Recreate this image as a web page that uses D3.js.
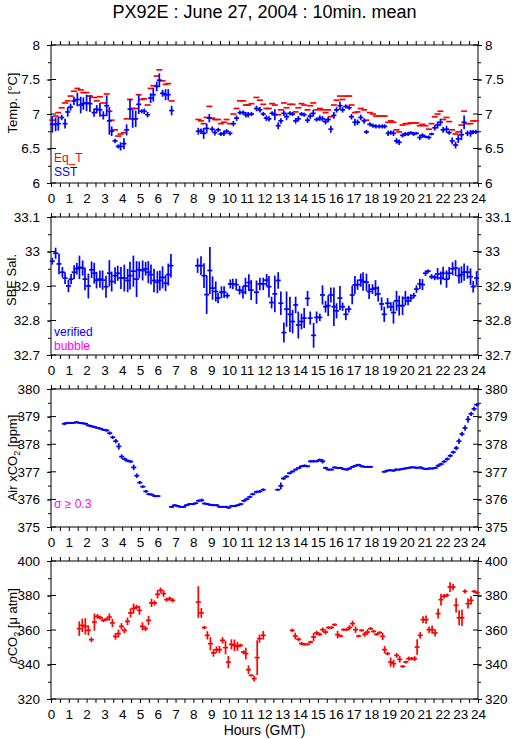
<!DOCTYPE html>
<html>
<head>
<meta charset="utf-8">
<script src="https://cdn.jsdelivr.net/npm/d3@7"></script>
<style>
  body { margin: 0; background: #fff; }
  text { font-family: "Liberation Sans", Arial, Helvetica, sans-serif; }
</style>
</head>
<body>
<div id="chart"></div>
<script>
// PX92E underway data, 10 min means
var hourTicks = d3.range(0, 25);

// temperature panel: hours, SST (+/- sd) and equilibrator temp
var tempHours = [0.07,0.26,0.41,0.6,0.79,0.94,1.1,1.29,1.48,1.67,1.82,2.0,2.19,2.42,2.57,2.75,2.94,3.13,3.28,3.41,
  3.6,3.78,3.91,4.1,4.25,4.44,4.59,4.76,4.93,5.1,5.24,5.43,5.6,5.75,5.94,6.09,6.27,6.44,6.59,6.78,
  8.28,8.43,8.58,8.75,8.9,9.06,9.21,9.4,9.55,9.72,9.87,10.06,10.25,10.43,10.62,10.8,10.95,11.08,11.27,
  11.55,11.74,11.93,12.1,12.25,12.43,12.58,12.77,12.92,13.09,13.24,13.43,13.58,13.75,13.9,14.08,14.23,14.42,14.57,14.74,
  14.93,15.11,15.26,15.43,15.58,15.73,15.9,16.05,16.24,16.39,16.57,16.76,16.89,17.08,17.23,17.41,17.6,17.73,17.92,18.1,
  18.26,18.45,18.63,18.76,18.95,19.1,19.25,19.42,19.57,19.76,19.92,20.07,20.22,20.39,20.54,20.73,20.88,21.05,21.24,21.39,
  21.57,21.73,21.89,22.04,22.23,22.38,22.55,22.74,22.89,23.07,23.22,23.41,23.58,23.73,23.88];
var sst = [6.85,6.85,6.86,6.95,6.86,7.03,7.1,7.19,7.21,7.13,7.15,7.16,7.15,7.02,7.07,7.06,6.98,7.12,6.9,6.75,
  6.61,6.53,6.53,6.57,6.77,7.07,6.93,6.93,7.14,7.04,7.04,6.99,7.23,7.28,7.4,7.49,7.3,7.28,7.28,7.05,
  6.75,6.75,6.72,6.79,6.94,6.78,6.73,6.77,6.71,6.72,6.75,6.72,6.86,6.94,7.02,7.02,6.99,6.99,7.0,
  7.08,7.06,7.0,6.94,6.93,7.01,6.99,6.83,6.9,7.01,6.96,7.01,7.0,6.9,6.93,7.0,6.99,6.91,6.97,7.01,
  6.92,6.94,6.93,6.89,6.92,6.78,6.98,7.06,7.12,7.06,7.11,7.09,6.96,6.88,6.88,6.95,6.9,6.74,6.85,6.83,
  6.82,6.82,6.82,6.82,6.72,6.73,6.72,6.61,6.59,6.69,6.71,6.71,6.73,6.71,6.72,6.66,6.69,6.67,6.66,6.71,
  6.8,6.84,6.88,6.77,6.78,6.73,6.61,6.55,6.64,6.7,6.88,6.72,6.72,6.74,6.74];
var sstErr = [0.12,0.1,0.1,0.04,0.07,0.07,0.05,0.06,0.1,0.12,0.09,0.12,0.12,0.06,0.06,0.1,0.06,0.15,0.2,0.07,
  0.03,0.03,0.06,0.08,0.08,0.15,0.13,0.12,0.14,0.03,0.04,0.04,0.07,0.1,0.07,0.1,0.05,0.08,0.08,0.07,
  0.05,0.04,0.08,0.07,0.06,0.04,0.04,0.03,0.03,0.04,0.03,0.03,0.04,0.04,0.03,0.03,0.04,0.04,0.03,
  0.04,0.04,0.03,0.04,0.04,0.03,0.08,0.05,0.04,0.04,0.05,0.03,0.03,0.04,0.04,0.03,0.03,0.04,0.04,0.05,
  0.03,0.04,0.04,0.04,0.04,0.05,0.05,0.04,0.06,0.04,0.03,0.03,0.04,0.05,0.04,0.04,0.04,0.03,0.03,0.03,
  0.03,0.03,0.03,0.03,0.04,0.03,0.04,0.04,0.04,0.03,0.03,0.03,0.02,0.03,0.02,0.04,0.03,0.02,0.03,0.02,
  0.04,0.05,0.05,0.04,0.05,0.03,0.05,0.05,0.06,0.08,0.1,0.04,0.05,0.03,0.03];
var eqT = [6.91,6.97,7.02,7.09,7.16,7.19,7.26,7.33,7.37,7.35,7.31,7.31,7.26,7.24,7.19,7.25,7.16,7.29,7.04,6.91,
  6.77,6.68,6.71,6.73,6.93,7.21,7.08,7.08,7.28,7.21,7.22,7.13,7.37,7.41,7.55,7.64,7.48,7.43,7.44,7.19,
  6.92,6.9,6.86,6.95,7.11,6.94,6.92,6.92,6.86,6.88,6.92,6.86,7.0,7.08,7.19,7.19,7.13,7.13,7.15,
  7.24,7.2,7.14,7.08,7.08,7.15,7.13,6.99,7.06,7.16,7.09,7.14,7.14,7.03,7.09,7.15,7.13,7.06,7.12,7.16,
  7.06,7.08,7.06,7.02,7.06,6.96,7.13,7.2,7.26,7.21,7.26,7.26,7.13,7.02,7.03,7.08,7.06,6.91,7.02,7.0,
  6.97,6.97,6.97,6.97,6.88,6.9,6.88,6.77,6.74,6.84,6.86,6.86,6.87,6.87,6.87,6.83,6.85,6.83,6.78,6.86,
  6.96,7.0,7.04,6.92,6.95,6.89,6.77,6.71,6.74,6.84,7.04,6.86,6.86,6.9,6.9];

// salinity panel
var salHours = [0.07,0.26,0.45,0.64,0.79,0.98,1.13,1.3,1.45,1.6,1.78,1.91,2.1,2.28,2.43,2.56,2.75,2.9,3.09,3.28,
  3.41,3.6,3.75,3.93,4.12,4.31,4.44,4.63,4.81,4.96,5.15,5.32,5.47,5.62,5.79,5.98,6.12,6.27,6.44,6.59,6.74,
  8.24,8.43,8.6,8.75,8.93,9.08,9.26,9.39,9.58,9.73,9.91,10.08,10.22,10.41,10.6,10.79,10.93,11.12,11.25,
  11.55,11.74,11.93,12.12,12.25,12.4,12.58,12.77,12.92,13.09,13.24,13.43,13.58,13.75,13.9,14.08,14.23,14.42,14.57,14.76,
  14.93,15.11,15.26,15.43,15.58,15.73,15.9,16.05,16.24,16.39,16.57,16.74,16.93,17.08,17.23,17.41,17.54,17.73,17.88,18.07,
  18.24,18.39,18.58,18.73,18.92,19.1,19.25,19.42,19.57,19.76,19.92,20.07,20.22,20.39,20.54,20.73,20.88,21.05,21.2,21.39,
  21.57,21.73,21.91,22.04,22.23,22.38,22.57,22.74,22.93,23.07,23.22,23.41,23.58,23.73,23.92];
var sal = [32.972,32.995,32.964,32.94,32.923,32.9,32.92,32.94,32.95,32.954,32.952,32.92,32.9,32.947,32.937,32.917,32.92,32.917,32.898,32.937,
  32.913,32.93,32.937,32.923,32.923,32.916,32.93,32.943,32.92,32.947,32.945,32.95,32.94,32.933,32.916,32.911,32.916,32.925,32.908,32.933,32.959,
  32.959,32.959,32.93,32.875,32.945,32.894,32.884,32.865,32.882,32.882,32.872,32.906,32.906,32.904,32.888,32.882,32.9,32.91,32.888,
  32.882,32.906,32.906,32.917,32.898,32.852,32.877,32.916,32.85,32.765,32.833,32.818,32.797,32.845,32.787,32.797,32.807,32.864,32.807,32.757,
  32.809,32.809,32.874,32.84,32.843,32.874,32.84,32.828,32.865,32.84,32.818,32.833,32.874,32.903,32.904,32.917,32.913,32.911,32.884,32.891,
  32.894,32.877,32.848,32.818,32.85,32.84,32.823,32.857,32.843,32.843,32.865,32.857,32.865,32.872,32.891,32.906,32.904,32.937,32.943,32.927,
  32.925,32.935,32.923,32.937,32.92,32.937,32.95,32.952,32.93,32.933,32.94,32.94,32.927,32.898,32.923];
var salErr = [0.01,0.016,0.03,0.015,0.017,0.018,0.015,0.02,0.017,0.034,0.022,0.032,0.036,0.024,0.03,0.024,0.025,0.028,0.032,0.038,
  0.029,0.024,0.022,0.032,0.039,0.034,0.04,0.045,0.052,0.024,0.029,0.02,0.032,0.029,0.034,0.032,0.029,0.032,0.023,0.032,0.034,
  0.021,0.027,0.036,0.056,0.068,0.034,0.029,0.015,0.017,0.017,0.008,0.013,0.015,0.017,0.013,0.018,0.024,0.024,0.029,
  0.034,0.018,0.018,0.018,0.031,0.017,0.053,0.024,0.034,0.029,0.051,0.051,0.034,0.024,0.039,0.023,0.029,0.022,0.019,0.036,
  0.017,0.011,0.028,0.017,0.03,0.022,0.056,0.022,0.035,0.012,0.017,0.01,0.027,0.026,0.015,0.019,0.027,0.025,0.022,0.014,
  0.023,0.022,0.019,0.022,0.015,0.013,0.032,0.029,0.029,0.027,0.021,0.013,0.011,0.008,0.011,0.015,0.016,0.008,0.005,0.007,
  0.008,0.017,0.019,0.019,0.025,0.018,0.019,0.023,0.023,0.024,0.025,0.019,0.024,0.017,0.02];

// atmospheric xCO2 panel
var airHours = [0.75,0.92,1.09,1.26,1.43,1.6,1.77,1.94,2.11,2.28,2.45,2.62,2.79,2.96,3.13,3.3,3.47,3.64,3.81,3.97,
  4.14,4.31,4.48,4.65,4.82,4.99,5.16,5.33,5.5,5.67,5.84,6.01,
  6.78,6.95,7.12,7.28,7.45,7.62,7.79,7.96,8.13,8.3,8.47,8.63,8.8,8.97,9.14,9.31,9.48,9.65,9.82,9.99,
  10.16,10.33,10.5,10.67,10.84,11.01,11.17,11.34,11.55,11.74,11.93,
  12.74,12.92,13.07,13.24,13.41,13.58,13.75,13.92,14.08,14.25,14.42,14.59,14.76,14.93,15.1,15.27,15.43,15.6,15.77,15.94,
  16.11,16.28,16.45,16.62,16.78,16.95,17.12,17.29,17.46,17.63,17.79,17.96,
  18.73,18.9,19.07,19.24,19.4,19.57,19.74,19.91,20.08,20.25,20.42,20.58,20.75,20.92,21.09,21.26,21.43,21.6,21.76,21.93,
  22.1,22.27,22.44,22.61,22.78,22.93,23.1,23.27,23.44,23.61,23.78,23.93];
var air = [378.74,378.77,378.77,378.77,378.8,378.77,378.76,378.74,378.68,378.65,378.62,378.59,378.56,378.52,378.5,378.4,378.25,378.11,377.92,377.55,
  377.46,377.4,377.37,377.16,376.86,376.61,376.46,376.29,376.19,376.17,376.12,376.12,
  375.73,375.79,375.76,375.73,375.73,375.79,375.83,375.83,375.86,375.95,375.97,375.85,375.83,375.8,375.79,375.79,375.73,375.73,375.73,375.7,
  375.76,375.76,375.79,375.83,375.95,376.01,376.09,376.19,376.27,376.29,376.35,
  376.35,376.49,376.76,376.83,376.95,377.01,377.08,377.14,377.2,377.22,377.2,377.38,377.38,377.38,377.43,377.38,377.14,377.08,377.08,377.16,
  377.14,377.14,377.1,377.08,377.12,377.18,377.22,377.25,377.2,377.18,377.18,377.18,
  377.0,377.04,377.06,377.04,377.08,377.08,377.1,377.12,377.14,377.16,377.16,377.14,377.16,377.12,377.1,377.12,377.12,377.14,377.22,377.28,
  377.37,377.46,377.58,377.71,377.86,378.11,378.37,378.59,378.9,379.1,379.28,379.43];
var airErr = [0.05,0.04,0.04,0.04,0.04,0.04,0.04,0.04,0.04,0.04,0.04,0.04,0.04,0.04,0.05,0.06,0.06,0.08,0.12,0.08,
  0.06,0.05,0.05,0.1,0.08,0.06,0.05,0.05,0.04,0.04,0.04,0.04,
  0.04,0.04,0.04,0.04,0.04,0.04,0.04,0.04,0.04,0.05,0.06,0.04,0.04,0.04,0.04,0.04,0.04,0.04,0.04,0.04,
  0.04,0.04,0.04,0.04,0.05,0.05,0.05,0.05,0.05,0.05,0.05,
  0.04,0.12,0.06,0.05,0.05,0.04,0.04,0.04,0.04,0.05,0.04,0.05,0.05,0.04,0.05,0.08,0.05,0.04,0.04,0.04,
  0.04,0.04,0.04,0.04,0.04,0.04,0.04,0.04,0.04,0.04,0.04,0.04,
  0.04,0.04,0.04,0.04,0.04,0.04,0.04,0.04,0.04,0.04,0.04,0.04,0.04,0.04,0.04,0.04,0.04,0.04,0.05,0.05,
  0.05,0.06,0.06,0.06,0.08,0.1,0.08,0.1,0.12,0.08,0.08,0.06];

// seawater pCO2 panel
var pco2Hours = [1.59,1.76,1.93,2.1,2.27,2.44,2.61,2.78,2.94,3.11,3.28,3.45,3.62,3.79,3.96,4.13,4.3,4.47,4.64,4.81,
  4.97,5.14,5.31,5.48,5.65,5.82,5.99,6.16,6.33,6.5,6.67,6.84,
  8.28,8.45,8.62,8.79,8.96,9.13,9.3,9.47,9.64,9.81,9.97,10.14,10.31,10.48,10.65,10.82,10.95,11.1,11.25,11.42,11.59,11.72,11.93,
  13.56,13.73,13.92,14.08,14.25,14.42,14.59,14.76,14.93,15.1,15.27,15.43,15.6,15.77,15.94,16.11,16.28,16.45,16.62,16.78,
  16.95,17.12,17.29,17.46,17.63,17.79,17.96,18.13,18.3,18.47,18.64,18.75,18.92,19.09,19.26,19.43,19.6,19.77,19.94,20.11,
  20.28,20.44,20.58,20.75,20.91,21.08,21.25,21.42,21.59,21.76,21.92,22.09,22.26,22.43,22.6,22.77,22.94,23.1,23.27,23.44,
  23.61,23.78,23.95];
var pco2 = [360.8,362.7,362.1,359.8,354.4,364.6,367.9,367.1,365.6,366.2,367.5,364.1,356.3,357.9,362.1,359.8,365.0,369.9,372.4,373.3,
  371.4,362.1,360.8,365.6,375.7,375.7,380.7,383.0,381.1,377.6,378.2,377.2,
  376.2,369.9,361.4,356.9,352.1,346.7,348.6,348.6,354.0,349.8,341.4,351.7,351.1,350.5,351.1,347.2,346.3,337.0,333.7,331.8,344.0,355.0,356.9,
  359.8,356.5,354.6,352.1,351.7,351.7,353.0,355.9,358.3,357.5,360.2,358.8,361.4,361.4,363.1,357.3,356.5,360.2,360.2,361.4,
  363.7,360.2,356.5,359.8,357.5,358.8,360.8,359.2,357.5,358.5,356.3,348.6,346.3,341.4,340.5,345.3,343.0,338.9,341.4,343.4,
  343.4,343.4,350.1,356.9,366.0,366.0,360.2,360.2,358.3,369.5,377.6,379.5,380.1,384.9,384.9,374.3,367.1,367.1,382.4,375.3,
  377.2,382.4,381.6];
var pco2Err = [4.2,3.9,4.8,2.9,1.4,5.0,1.4,1.0,1.0,1.0,2.1,2.4,1.9,2.3,1.9,1.7,2.2,2.6,2.9,1.3,
  2.6,2.4,1.4,2.6,2.4,1.5,2.4,1.6,1.9,1.2,1.2,1.2,
  9.2,2.9,1.0,2.4,3.9,2.2,1.9,2.1,1.9,3.9,3.6,2.9,3.4,2.6,1.0,1.0,3.4,2.5,0.6,1.6,10.1,2.4,2.5,
  1.0,1.9,1.1,1.0,0.8,0.6,0.8,2.4,1.3,1.0,1.3,1.4,0.8,0.8,0.8,2.2,0.8,0.8,0.8,1.4,
  1.7,1.9,0.8,0.8,1.4,1.6,0.8,0.8,0.8,0.8,2.1,2.1,1.0,2.7,2.3,1.4,1.9,0.8,0.8,1.2,
  1.0,1.4,4.5,1.9,1.9,2.4,1.9,2.4,2.1,2.9,3.4,1.3,1.0,2.8,1.9,4.1,4.4,4.8,1.2,2.9,
  2.4,0.8,0.8];

var W = 515, H = 739;
var L = 51, R = 478, PH = 138;
var blue = "#0000ff", red = "#ff0000", magenta = "#ff00ff";

var svg = d3.select("#chart").append("svg")
  .attr("width", W).attr("height", H)
  .style("display", "block");

var x = d3.scaleLinear().domain([0, 24]).range([L, R]);

svg.append("text").attr("x", (L + R) / 2).attr("y", 18)
  .attr("text-anchor", "middle").attr("font-size", 18).text("PX92E : June 27, 2004 : 10min. mean");

function panel(top, domain, major, minor, fmt) {
  var y = d3.scaleLinear().domain(domain).range([top + PH, top]);
  var g = svg.append("g");

  // x axes, half hour ticks outward
  var halfHours = d3.range(0, 24.01, 0.5);
  g.append("g").attr("transform", "translate(0," + top + ")")
    .call(d3.axisTop(x).tickValues(halfHours).tickSize(4).tickFormat(""));
  g.append("g").attr("transform", "translate(0," + (top + PH) + ")")
    .call(d3.axisBottom(x).tickValues(halfHours).tickSize(4).tickPadding(6)
      .tickFormat(function (d) { return d % 1 === 0 ? d : ""; }));

  var majors = d3.range(domain[0], domain[1] + minor / 2, major);
  var minors = d3.range(domain[0], domain[1] + minor / 2, minor);

  g.append("g").attr("transform", "translate(" + L + ",0)")
    .call(d3.axisLeft(y).tickValues(minors).tickSize(3).tickFormat(""));
  g.append("g").attr("transform", "translate(" + L + ",0)")
    .call(d3.axisLeft(y).tickValues(majors).tickSize(4).tickPadding(7).tickFormat(fmt));
  g.append("g").attr("transform", "translate(" + R + ",0)")
    .call(d3.axisRight(y).tickValues(minors).tickSize(3).tickFormat(""));
  g.append("g").attr("transform", "translate(" + R + ",0)")
    .call(d3.axisRight(y).tickValues(majors).tickSize(4).tickPadding(3).tickFormat(fmt));

  // major ticks also poke into the frame
  g.selectAll(".inl").data(majors).enter().append("line")
    .attr("x1", L).attr("x2", L + 5).attr("y1", function (d) { return y(d); }).attr("y2", function (d) { return y(d); })
    .attr("stroke", "#000");
  g.selectAll(".inr").data(majors).enter().append("line")
    .attr("x1", R - 5).attr("x2", R).attr("y1", function (d) { return y(d); }).attr("y2", function (d) { return y(d); })
    .attr("stroke", "#000");

  g.selectAll(".domain").remove();
  g.selectAll(".tick text").attr("font-size", 13.5).attr("fill", "#000")
    .style("font-family", "'Liberation Sans', Arial, sans-serif");

  g.append("rect").attr("x", L).attr("y", top).attr("width", R - L).attr("height", PH)
    .attr("fill", "none").attr("stroke", "#000");
  return y;
}

function crosses(hours, vals, errs, y, color, hw) {
  var pts = hours.map(function (h, i) { return { h: h, v: vals[i], e: errs ? errs[i] : 0 }; });
  var g = svg.append("g").attr("stroke", color).attr("stroke-width", 1.7);
  g.selectAll("line.hz").data(pts).enter().append("line").attr("class", "hz")
    .attr("x1", function (d) { return x(d.h) - hw; })
    .attr("x2", function (d) { return x(d.h) + hw; })
    .attr("y1", function (d) { return y(d.v); })
    .attr("y2", function (d) { return y(d.v); });
  g.selectAll("line.vt").data(pts.filter(function (d) { return d.e > 0; })).enter().append("line").attr("class", "vt")
    .attr("x1", function (d) { return x(d.h); })
    .attr("x2", function (d) { return x(d.h); })
    .attr("y1", function (d) { return y(d.v - d.e); })
    .attr("y2", function (d) { return y(d.v + d.e); });
}

function yTitle(cx, cy, parts) {
  var t = svg.append("text").attr("transform", "translate(" + cx + "," + cy + ") rotate(-90)")
    .attr("text-anchor", "middle").attr("dy", "0.35em").attr("font-size", 13);
  parts.forEach(function (p) {
    var s = t.append("tspan").text(p[0]);
    if (p[1] === "sub") s.attr("font-size", 9).attr("dy", 3);
    if (p[1] === "back") s.attr("dy", -3);
    if (p[1] === "it") s.attr("font-style", "italic");
  });
}

function legend(xx, yy, txt, color) {
  svg.append("text").attr("x", xx).attr("y", yy).attr("font-size", 12).attr("fill", color).text(txt);
}

// panel 1: temperatures
var y1 = panel(45, [6, 8], 0.5, 0.25, function (d) { return d3.format("")(+d.toFixed(1)); });
crosses(tempHours, eqT, null, y1, red, 3);
crosses(tempHours, sst, sstErr, y1, blue, 2.5);
yTitle(12.5, 103, [["Temp. [°C]"]]);
legend(54, 162, "Eq_T", red);
legend(54, 176, "SST", blue);

// panel 2: salinity
var y2 = panel(217, [32.7, 33.1], 0.1, 0.05, function (d) { return d3.format("")(+d.toFixed(1)); });
crosses(salHours, sal, salErr, y2, blue, 2.5);
yTitle(11.5, 280, [["SBE Sal."]]);
legend(54, 336, "verified", blue);
legend(54, 350, "bubble", magenta);

// panel 3: air xCO2
var y3 = panel(389, [375, 380], 1, 0.5, d3.format("d"));
crosses(airHours, air, airErr, y3, blue, 2.5);
yTitle(12.5, 458, [["Air xCO"], ["2", "sub"], [" [ppm]", "back"]]);
legend(54, 508, "σ ≥ 0.3", magenta);

// panel 4: pCO2
var y4 = panel(561, [320, 400], 20, 10, d3.format("d"));
crosses(pco2Hours, pco2, pco2Err, y4, red, 2.5);
yTitle(12.5, 626, [["ρ", "it"], ["CO"], ["2", "sub"], [" [μ atm]", "back"]]);

svg.append("text").attr("x", (L + R) / 2).attr("y", 735)
  .attr("text-anchor", "middle").attr("font-size", 14).text("Hours (GMT)");
</script>
</body>
</html>
